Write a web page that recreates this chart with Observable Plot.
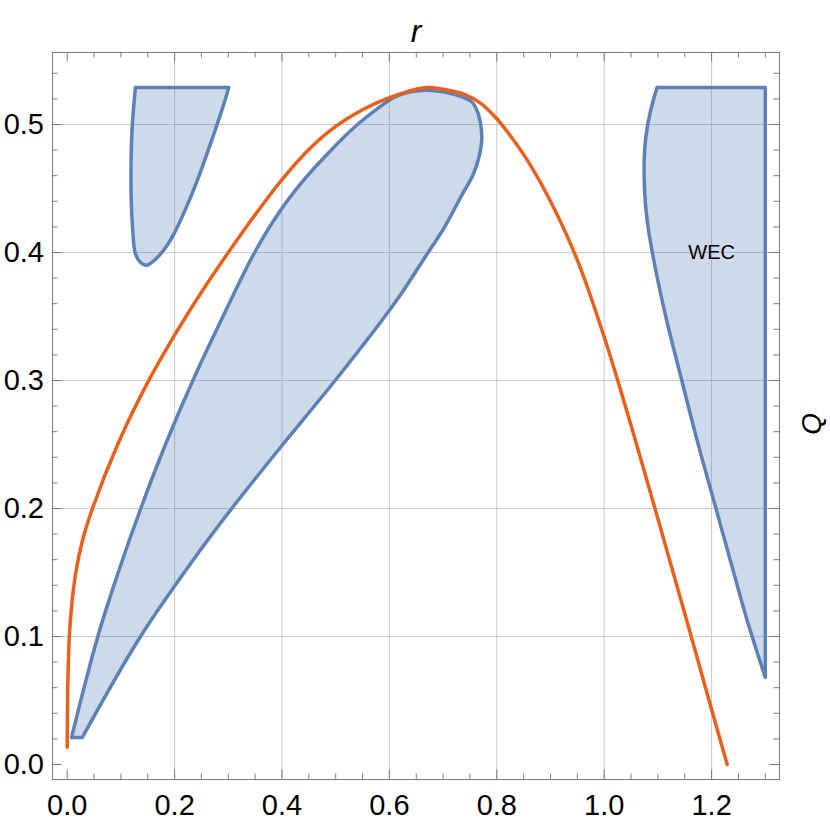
<!DOCTYPE html>
<html><head><meta charset="utf-8">
<script src="https://cdn.jsdelivr.net/npm/d3@7"></script>
<script src="https://cdn.jsdelivr.net/npm/@observablehq/plot@0.6"></script>
<style>
body{margin:0;background:#fff;}
</style>
</head><body><div id="chart"></div>
<script>
// ---- data (r, Q) ----
const orangeCurve = [
  [0.000,0.0135],[0.0005,0.04],[0.0015,0.07],[0.004,0.1],[0.0085,0.125],[0.016,0.15],[0.0285,0.175],
  [0.047,0.2],[0.096,0.252],[0.148,0.297],[0.2,0.3355],[0.25,0.369],[0.3,0.4],[0.35,0.4295],[0.4,0.457],
  [0.45,0.4805],[0.5,0.4985],[0.55,0.5115],[0.6,0.521],[0.664,0.5288],[0.7,0.5275],[0.74,0.5235],
  [0.77,0.5165],[0.8,0.5045],[0.83,0.4885],[0.86,0.47],[0.9,0.44],[0.95,0.394],[1.0,0.334],[1.05,0.265],
  [1.1,0.192],[1.15,0.118],[1.2,0.043],[1.229,0.0]
];
const bigContour = [
  [0.008,0.021],[0.057,0.1],[0.095,0.15],[0.137,0.2],[0.183,0.25],[0.234,0.3],[0.29,0.35],[0.349,0.4],
  [0.397,0.4328],[0.445,0.4588],[0.503,0.485],[0.5405,0.5],[0.5735,0.511],[0.6095,0.5213],
  [0.64,0.5255],[0.667,0.5268],[0.70,0.5255],[0.735,0.5215],
  [0.753,0.518],[0.764,0.51],[0.770,0.5],[0.772,0.488],[0.7665,0.474],[0.755,0.46],[0.736,0.4458],
  [0.703,0.42],[0.6627,0.394],[0.6255,0.37],[0.5915,0.35],[0.499,0.3],[0.4014,0.25],[0.3064,0.2],
  [0.247,0.167],[0.1365,0.1],[0.028,0.021]
];
const bigBottom = [[0.028,0.021],[0.008,0.021]];
const smallTop = [[0.127,0.529],[0.301,0.529]];
const smallCurve = [
  [0.301,0.529],[0.2917,0.516],[0.273,0.4925],[0.242,0.456],[0.22,0.4335],[0.2,0.4155],[0.186,0.4055],
  [0.171,0.3975],[0.158,0.3925],[0.148,0.39],[0.135,0.393],[0.127,0.399],[0.1216,0.42],[0.119,0.446],
  [0.119,0.472],[0.121,0.498],[0.127,0.529]
];
const wecTop = [[1.0987,0.529],[1.3,0.529]];
const wecRight = [[1.3,0.529],[1.3,0.068]];
const wecLeft = [
  [1.3,0.068],[1.2663,0.1125],[1.2352,0.159],[1.2041,0.206],[1.1732,0.253],[1.1445,0.3],[1.118,0.344],
  [1.1025,0.373],[1.0905,0.398],[1.08,0.425],[1.0755,0.446],[1.0745,0.472],[1.0775,0.49],[1.0865,0.511],
  [1.0987,0.529]
];
const labels = [{r:1.2, Q:0.4, text:"WEC"}];

// ticks
const xMajor = [0,0.2,0.4,0.6,0.8,1.0,1.2];
const xMinor = [0.05,0.1,0.15,0.25,0.3,0.35,0.45,0.5,0.55,0.65,0.7,0.75,0.85,0.9,0.95,1.05,1.1,1.15,1.25,1.3];
const yMajor = [0,0.1,0.2,0.3,0.4,0.5];
const yMinor = [0.02,0.04,0.06,0.08,0.12,0.14,0.16,0.18,0.22,0.24,0.26,0.28,0.32,0.34,0.36,0.38,0.42,0.44,0.46,0.48,0.52,0.54];
const xGrid = [0.2,0.4,0.6,0.8,1.0,1.2];
const yGrid = [0.1,0.2,0.3,0.4,0.5];

// ---- drawing ----
const W = 830, H = 824, mL = 52, mR = 51, mT = 52, mB = 45;
const fw = W - mL - mR, fh = H - mT - mB;
const blue = "#5e81b5", orange = "#e8601c", tickColor = "#7a7a7a";
const fmt = d3.format(".1f");
const px = d => d[0], py = d => d[1];
const regionStyle = {x: px, y: py, curve: "catmull-rom", fill: blue, fillOpacity: 0.3, stroke: blue, strokeWidth: 3.5};

const chart = Plot.plot({
  width: W, height: H,
  marginLeft: mL, marginRight: mR, marginTop: mT, marginBottom: mB,
  style: {fontFamily: "'Liberation Sans', Arial, sans-serif", background: "#fff", color: "#000"},
  x: {domain: [-0.02737, 1.32644]},
  y: {domain: [-0.01172, 0.55625]},
  marks: [
    Plot.gridX(xGrid, {stroke: "#c8c8c8", strokeOpacity: 1}),
    Plot.gridY(yGrid, {stroke: "#c8c8c8", strokeOpacity: 1}),
    Plot.line([...smallTop, ...smallCurve], regionStyle),
    Plot.line([...bigContour, ...bigBottom], regionStyle),
    Plot.line([...wecTop, ...wecRight, ...wecLeft], regionStyle),
    Plot.line(orangeCurve, {x: px, y: py, curve: "catmull-rom", stroke: orange, strokeWidth: 3.5}),
    Plot.frame({stroke: tickColor, strokeWidth: 1}),
    // inward tick marks on all four sides
    Plot.ruleX(xMajor, {stroke: tickColor, insetTop: fh - 9.5}),
    Plot.ruleX(xMinor, {stroke: tickColor, insetTop: fh - 5.5}),
    Plot.ruleX(xMajor, {stroke: tickColor, insetBottom: fh - 9.5}),
    Plot.ruleX(xMinor, {stroke: tickColor, insetBottom: fh - 5.5}),
    Plot.ruleY(yMajor, {stroke: tickColor, insetRight: fw - 9.5}),
    Plot.ruleY(yMinor, {stroke: tickColor, insetRight: fw - 5.5}),
    Plot.ruleY(yMajor, {stroke: tickColor, insetLeft: fw - 9.5}),
    Plot.ruleY(yMinor, {stroke: tickColor, insetLeft: fw - 5.5}),
    Plot.axisX({anchor: "bottom", ticks: xMajor, tickSize: 0, tickPadding: 15, tickFormat: fmt, fontSize: 29, label: null}),
    Plot.axisY({anchor: "left", ticks: yMajor, tickSize: 0, tickPadding: 8.5, tickFormat: fmt, fontSize: 29, label: null}),
    Plot.text(labels, {x: "r", y: "Q", text: "text", fontSize: 20, fill: "#000"}),
    Plot.text(["r"], {frameAnchor: "top", text: d => d, fontSize: 32, fontStyle: "italic", dy: -33, fill: "#000"}),
    Plot.text(["Q"], {frameAnchor: "right", text: d => d, fontSize: 28, fontStyle: "italic", rotate: -90, dx: 33, dy: -3, fill: "#000"})
  ]
});
document.getElementById("chart").appendChild(chart);
</script>
</body></html>
